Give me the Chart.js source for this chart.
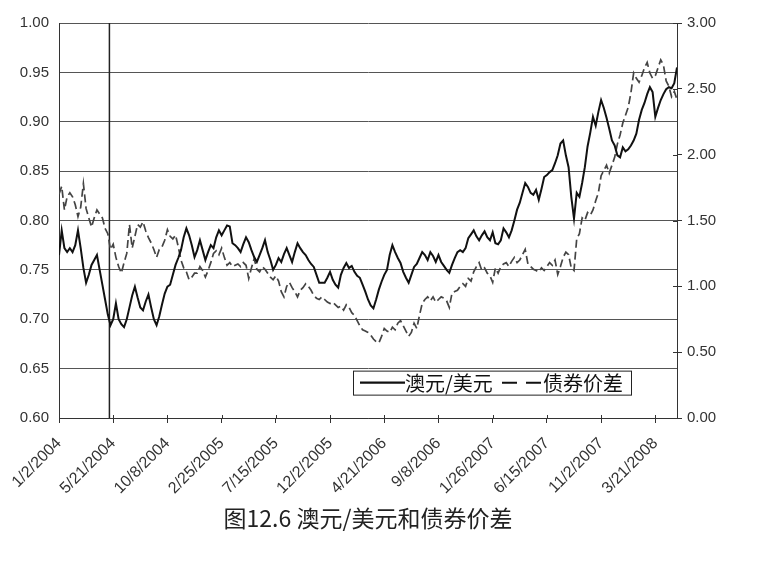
<!DOCTYPE html>
<html>
<head>
<meta charset="utf-8">
<script src="https://cdn.jsdelivr.net/npm/chart.js@4.4.1/dist/chart.umd.min.js"></script>
<style>
  html, body { margin: 0; padding: 0; background: #fff; }
  #wrap { width: 759px; height: 566px; }
</style>
</head>
<body>
<div id="wrap"><canvas id="fxChart"></canvas></div>
<script>
  // weekly data, first week 1/2/2004; labels every 20 weeks
  const tickLabels = ['1/2/2004', '5/21/2004', '10/8/2004', '2/25/2005', '7/15/2005', '12/2/2005',
    '4/21/2006', '9/8/2006', '1/26/2007', '6/15/2007', '11/2/2007', '3/21/2008'];

  // 澳元/美元 (left axis)
  const audUsd = [
    0.765, 0.790, 0.772, 0.768, 0.772, 0.768, 0.775, 0.790, 0.772, 0.752,
    0.737, 0.745, 0.755, 0.760, 0.765, 0.750, 0.735, 0.720, 0.705, 0.694,
    0.700, 0.716, 0.700, 0.695, 0.692, 0.700, 0.712, 0.724, 0.733, 0.722,
    0.712, 0.709, 0.718, 0.725, 0.712, 0.700, 0.694, 0.703, 0.715, 0.726,
    0.733, 0.735, 0.745, 0.755, 0.762, 0.770, 0.783, 0.792, 0.785, 0.775,
    0.763, 0.770, 0.780, 0.770, 0.760, 0.768, 0.775, 0.772, 0.783, 0.790,
    0.785, 0.790, 0.795, 0.794, 0.777, 0.775, 0.772, 0.768, 0.776, 0.783,
    0.778, 0.770, 0.763, 0.758, 0.765, 0.772, 0.780, 0.768, 0.760, 0.750,
    0.755, 0.762, 0.758, 0.766, 0.772, 0.765, 0.758, 0.768, 0.777, 0.772,
    0.768, 0.765, 0.760, 0.756, 0.753, 0.745, 0.737, 0.737, 0.737, 0.742,
    0.748, 0.740, 0.735, 0.732, 0.745, 0.752, 0.757, 0.752, 0.754, 0.748,
    0.744, 0.742, 0.735, 0.728, 0.720, 0.714, 0.711, 0.720, 0.730, 0.738,
    0.745, 0.750, 0.765, 0.775, 0.768, 0.762, 0.757, 0.748, 0.742, 0.737,
    0.745, 0.753, 0.756, 0.762, 0.768, 0.765, 0.760, 0.768, 0.764, 0.758,
    0.765, 0.758, 0.754, 0.750, 0.747, 0.755, 0.762, 0.768, 0.770, 0.768,
    0.772, 0.782, 0.786, 0.790, 0.784, 0.780, 0.785, 0.789, 0.783, 0.780,
    0.788, 0.777, 0.776, 0.780, 0.792, 0.788, 0.783, 0.790, 0.800, 0.811,
    0.818, 0.828, 0.838, 0.834, 0.828, 0.826, 0.831, 0.821, 0.832, 0.844,
    0.846, 0.849, 0.851, 0.858, 0.866, 0.878, 0.881, 0.866, 0.854, 0.824,
    0.802, 0.828, 0.824, 0.838, 0.854, 0.875, 0.889, 0.905, 0.896, 0.910,
    0.922, 0.914, 0.904, 0.893, 0.881, 0.876, 0.866, 0.864, 0.874, 0.870,
    0.872, 0.876, 0.881, 0.888, 0.902, 0.912, 0.919, 0.928, 0.935, 0.930,
    0.905, 0.914, 0.922, 0.928, 0.933, 0.935, 0.934, 0.939, 0.955
  ];

  // 债券价差 (right axis)
  const bondSpread = [
    1.70, 1.76, 1.58, 1.68, 1.71, 1.68, 1.62, 1.53, 1.60, 1.78,
    1.59, 1.52, 1.45, 1.52, 1.58, 1.55, 1.52, 1.44, 1.40, 1.28,
    1.32, 1.22, 1.15, 1.10, 1.18, 1.25, 1.47, 1.29, 1.38, 1.47,
    1.45, 1.49, 1.42, 1.37, 1.33, 1.28, 1.22, 1.28, 1.30, 1.35,
    1.43, 1.38, 1.36, 1.39, 1.30, 1.20, 1.14, 1.11, 1.05, 1.07,
    1.10, 1.10, 1.15, 1.12, 1.07, 1.12, 1.18, 1.25, 1.27, 1.24,
    1.29, 1.22, 1.16, 1.18, 1.15, 1.16, 1.17, 1.15, 1.18, 1.16,
    1.06, 1.14, 1.21, 1.13, 1.11, 1.15, 1.13, 1.10, 1.07, 1.05,
    1.08, 1.04, 0.96, 0.92, 1.00, 1.03, 0.99, 0.96, 0.92, 0.97,
    0.99, 1.02, 1.00, 0.97, 0.93, 0.91, 0.90, 0.92, 0.90, 0.88,
    0.87, 0.88, 0.86, 0.84, 0.85, 0.82, 0.86, 0.84, 0.80, 0.78,
    0.74, 0.70, 0.67, 0.66, 0.65, 0.63, 0.60, 0.58, 0.57, 0.62,
    0.68, 0.66, 0.65, 0.69, 0.67, 0.72, 0.74, 0.70, 0.66, 0.62,
    0.65, 0.72, 0.68, 0.78, 0.87, 0.90, 0.92, 0.89, 0.92, 0.88,
    0.90, 0.92, 0.91, 0.89, 0.84, 0.95, 0.96, 0.97, 1.00, 1.02,
    1.00, 1.06, 1.04, 1.11, 1.15, 1.18, 1.12, 1.14, 1.10, 1.08,
    1.03, 1.14, 1.10, 1.15, 1.17, 1.18, 1.15, 1.19, 1.22, 1.18,
    1.20, 1.24, 1.28, 1.17, 1.15, 1.13, 1.12, 1.11, 1.14, 1.12,
    1.15, 1.18, 1.16, 1.20, 1.09, 1.15, 1.22, 1.26, 1.24, 1.14,
    1.12, 1.36, 1.40, 1.52, 1.50, 1.56, 1.54, 1.58, 1.65, 1.71,
    1.84, 1.88, 1.92, 1.86, 1.92, 1.98, 2.08, 2.15, 2.24, 2.30,
    2.36, 2.47, 2.62, 2.58, 2.55, 2.60, 2.66, 2.70, 2.62, 2.58,
    2.60, 2.66, 2.72, 2.68, 2.56, 2.52, 2.44, 2.48, 2.42
  ];

  // vertical marker line (week index)
  const markerWeek = 18.6;

  const seriesNames = ['澳元/美元', '债券价差'];
  const caption = '图12.6 澳元/美元和债券价差';

  const axisFont = { family: 'Liberation Sans, Arial, sans-serif', size: 15 };
  const cjkFont = 'Noto Sans CJK SC';

  // legend drawn inside the plot, bottom right
  const insideLegend = {
    id: 'insideLegend',
    afterDraw(chart) {
      const ctx = chart.ctx;
      const area = chart.chartArea;
      const left = area.left + 294;
      const top = chart.scales.y.getPixelForValue(0.65) + 2;
      const w = 278, h = 24;
      const mid = top + h / 2;
      ctx.save();
      ctx.fillStyle = '#fff';
      ctx.fillRect(left, top, w, h);
      ctx.strokeStyle = '#222';
      ctx.lineWidth = 1;
      ctx.strokeRect(left + 0.5, top + 0.5, w, h);

      ctx.strokeStyle = '#111';
      ctx.lineWidth = 2.2;
      ctx.beginPath();
      ctx.moveTo(left + 7, mid);
      ctx.lineTo(left + 52, mid);
      ctx.stroke();

      ctx.fillStyle = '#111';
      ctx.font = '20px "' + cjkFont + '"';
      ctx.textBaseline = 'middle';
      ctx.fillText(seriesNames[0], left + 52, mid + 1);

      ctx.lineWidth = 2;
      ctx.setLineDash([15, 9]);
      ctx.beginPath();
      ctx.moveTo(left + 149, mid);
      ctx.lineTo(left + 189, mid);
      ctx.stroke();
      ctx.setLineDash([]);
      ctx.fillText(seriesNames[1], left + 190, mid + 1);
      ctx.restore();
    }
  };

  // caption under the chart, centred on the plot area
  const captionText = {
    id: 'captionText',
    afterDraw(chart) {
      const ctx = chart.ctx;
      const area = chart.chartArea;
      ctx.save();
      ctx.fillStyle = '#222';
      ctx.font = '23px "' + cjkFont + '"';
      ctx.textAlign = 'center';
      ctx.textBaseline = 'middle';
      ctx.fillText(caption, (area.left + area.right) / 2, area.bottom + 100);
      ctx.restore();
    }
  };

  // tick marks in the reference cross the axis lines; draw the inner half
  const innerTicks = {
    id: 'innerTicks',
    afterDatasetsDraw(chart) {
      const ctx = chart.ctx;
      const area = chart.chartArea;
      ctx.save();
      ctx.strokeStyle = '#333';
      ctx.lineWidth = 1;
      ctx.beginPath();
      chart.scales.x.ticks.forEach((t) => {
        const px = Math.round(chart.scales.x.getPixelForValue(t.value)) + 0.5;
        ctx.moveTo(px, area.bottom);
        ctx.lineTo(px, area.bottom - 3);
      });
      chart.scales.y2.ticks.forEach((t) => {
        const py = Math.round(chart.scales.y2.getPixelForValue(t.value)) + 0.5;
        ctx.moveTo(area.right, py);
        ctx.lineTo(area.right - 4, py);
      });
      ctx.stroke();
      ctx.restore();
    }
  };

  const ctx = document.getElementById('fxChart').getContext('2d');
  new Chart(ctx, {
    type: 'line',
    data: {
      datasets: [
        {
          label: seriesNames[0],
          data: audUsd.map((v, i) => ({ x: i, y: v })),
          yAxisID: 'y',
          borderColor: '#111',
          borderWidth: 2,
          pointRadius: 0,
          tension: 0
        },
        {
          label: seriesNames[1],
          data: bondSpread.map((v, i) => ({ x: i, y: v })),
          yAxisID: 'y2',
          borderColor: '#444',
          borderWidth: 1.7,
          borderDash: [8, 4],
          pointRadius: 0,
          tension: 0
        },
        {
          label: 'marker',
          data: [{ x: markerWeek, y: 0.6 }, { x: markerWeek, y: 1.0 }],
          yAxisID: 'y',
          borderColor: '#222',
          borderWidth: 1.5,
          pointRadius: 0
        }
      ]
    },
    options: {
      responsive: true,
      maintainAspectRatio: false,
      animation: false,
      layout: { padding: { top: 23, left: 0, right: 0, bottom: 38 } },
      plugins: {
        legend: { display: false },
        tooltip: { enabled: false },
        title: { display: false }
      },
      scales: {
        x: {
          type: 'linear',
          min: 0,
          max: 228,
          afterBuildTicks(scale) {
            scale.ticks = tickLabels.map((_, i) => ({ value: i * 20 }));
          },
          afterFit(scale) { scale.height = 110; },
          ticks: {
            autoSkip: false,
            maxRotation: 45,
            minRotation: 45,
            padding: 11,
            color: '#333',
            font: { family: axisFont.family, size: 16 },
            callback: (v) => tickLabels[Math.round(v / 20)] || ''
          },
          grid: { drawOnChartArea: false, drawTicks: true, tickLength: 5, color: '#333' },
          border: { display: true, color: '#333', width: 1 }
        },
        y: {
          position: 'left',
          min: 0.6,
          max: 1.0,
          afterFit(scale) { scale.width = 59; },
          ticks: {
            stepSize: 0.05,
            padding: 10,
            color: '#333',
            font: axisFont,
            callback: (v) => v.toFixed(2)
          },
          grid: { color: '#555', lineWidth: 1, drawTicks: false },
          border: { display: true, color: '#333', width: 1 }
        },
        y2: {
          position: 'right',
          min: 0,
          max: 3,
          afterFit(scale) { scale.width = 82; },
          ticks: {
            stepSize: 0.5,
            padding: 5,
            color: '#333',
            font: axisFont,
            callback: (v) => v.toFixed(2)
          },
          grid: { drawOnChartArea: false, tickLength: 5, color: '#333' },
          border: { display: true, color: '#333', width: 1 }
        }
      }
    },
    plugins: [insideLegend, innerTicks, captionText]
  });
</script>
</body>
</html>
